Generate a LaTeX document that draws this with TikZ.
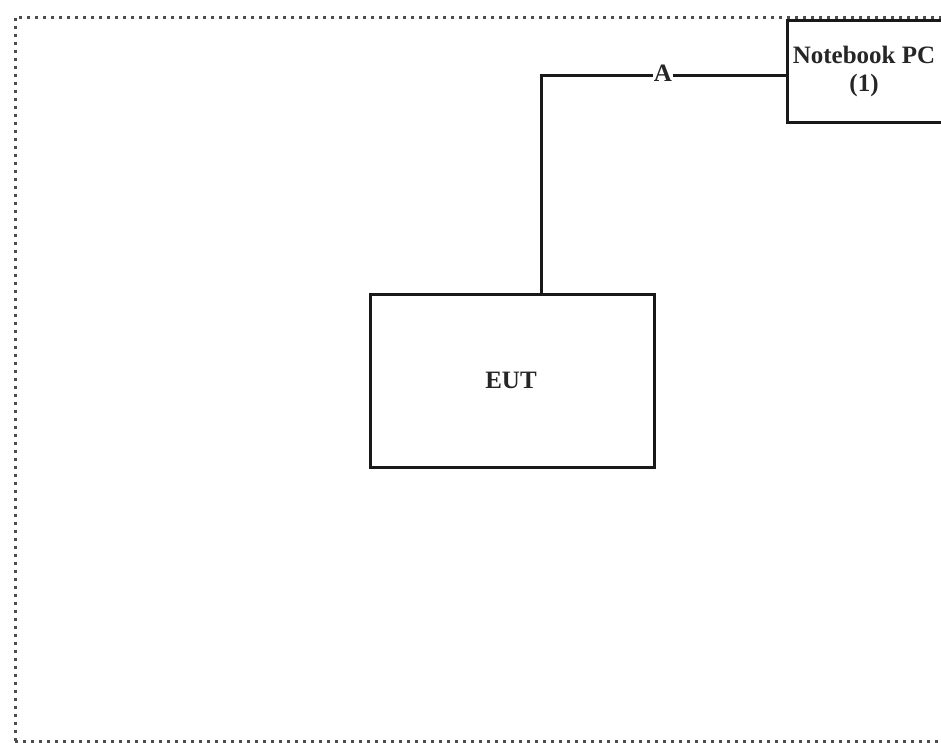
\documentclass[tikz,border=0pt]{standalone}
\usepackage{fontspec}
\setmainfont{Liberation Serif}
\begin{document}
\begin{tikzpicture}[x=1pt,y=-1pt,
  box/.style={draw=black!90, line width=3.2pt, fill=white, inner sep=0pt},
  lab/.style={font=\fontsize{25}{28}\selectfont\bfseries, text=black!85, align=center, inner sep=0pt},
  wire/.style={draw=black!90, line width=3pt},
  border/.style={draw=black!70, line width=3pt, dash pattern=on 3pt off 5pt}]
\useasboundingbox (0,0) rectangle (941,742);
\draw[border] (15,741) -- (15,17) -- (960,17);
\draw[border] (15,741) -- (960,741);
\node[box, minimum width=220pt, minimum height=102pt, anchor=north west] (nb) at (786,19) {};
\node[lab] (nbt) at (864,71) {Notebook PC\\(1)};
\node[box, minimum width=284pt, minimum height=173pt, anchor=north west] (eut) at (369,293) {};
\node[lab] (eutt) at (511,380) {EUT};
\coordinate (bend) at (541,75);
\draw[wire] (eut.north -| bend) -- (bend) -- (nb.west |- bend);
\node[lab, fill=white, inner xsep=1pt, inner ysep=0pt, anchor=base] (alab) at (663,81) {A};
\end{tikzpicture}
\end{document}
